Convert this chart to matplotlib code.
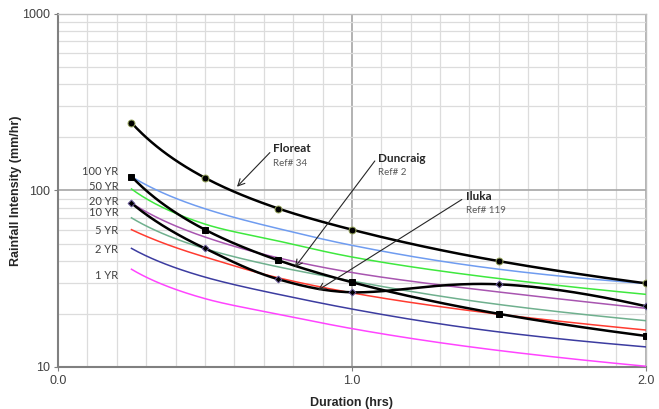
import matplotlib.pyplot as plt
import numpy as np
from matplotlib.ticker import FixedLocator, NullFormatter

# durations (hrs)
durations = [0.25, 0.5, 0.75, 1.0, 1.5, 2.0]

# IFD curves (mm/hr)
ifd_labels = ['100 YR', '50 YR', '20 YR', '10 YR', '5 YR', '2 YR', '1 YR']
ifd_100 = [120, 78.8, 60.8, 48.9, 35.8, 29.7]
ifd_50 = [102, 64.5, 51.7, 42, 31.7, 25.8]
ifd_20 = [85, 54.5, 41.5, 34.3, 26.6, 21.5]
ifd_10 = [70, 46.8, 36.9, 30.7, 22.6, 18.3]
ifd_5 = [60, 42, 32, 26.3, 19.9, 16.2]
ifd_2 = [47, 32.3, 25.8, 21.3, 15.8, 13.0]
ifd_1 = [35.8, 24.4, 19.9, 16.5, 12.4, 10.1]
ifd_colors = ['#6f9cf0', '#3ee83e', '#a855b0', '#6fb08e', '#ff3b30', '#3c3ca0', '#ff44ff']
ifd_label_y = [128, 105, 86.6, 75.1, 59.3, 46.4, 33.1]

# site records
floreat = [242, 118, 79, 60, 39.8, 29.8]
duncraig = [120, 60, 40.2, 30.2, 20, 15]
iluka = [84.8, 47, 31.4, 26.5, 29.4, 22.1]


def smooth(xs, ys, n=40):
    # cubic Hermite in (log x, log y), drawn on linear x, to mimic smoothed lines
    x = np.log(np.array(xs, float))
    y = np.log10(np.array(ys, float))
    m = np.empty_like(y)
    m[1:-1] = (y[2:] - y[:-2]) / (x[2:] - x[:-2])
    s0 = (y[1] - y[0]) / (x[1] - x[0])
    s1 = (y[-1] - y[-2]) / (x[-1] - x[-2])
    m[0] = 2 * s0 - m[1]
    m[-1] = 2 * s1 - m[-2]
    if m[0] * s0 < 0:
        m[0] = 0
    if m[-1] * s1 < 0:
        m[-1] = 0
    ox, oy = [], []
    for i in range(len(x) - 1):
        h = x[i + 1] - x[i]
        t = np.linspace(0, 1, n, endpoint=False)
        h00 = 2 * t ** 3 - 3 * t ** 2 + 1
        h10 = t ** 3 - 2 * t ** 2 + t
        h01 = -2 * t ** 3 + 3 * t ** 2
        h11 = t ** 3 - t ** 2
        ox.extend(x[i] + t * h)
        oy.extend(h00 * y[i] + h10 * h * m[i] + h01 * y[i + 1] + h11 * h * m[i + 1])
    ox.append(x[-1])
    oy.append(y[-1])
    return np.exp(np.array(ox)), 10 ** np.array(oy)


fig = plt.figure(figsize=(6.59, 4.09), dpi=100)
ax = fig.add_axes([0.088, 0.1027, 0.892, 0.8631])

ax.set_yscale('log')
ax.set_xlim(0, 2)
ax.set_ylim(10, 1000)

# grid
ax.xaxis.set_major_locator(FixedLocator([0, 1, 2]))
ax.xaxis.set_minor_locator(FixedLocator(np.arange(0.1, 2.0, 0.1)))
ax.yaxis.set_major_locator(FixedLocator([10, 100, 1000]))
ax.yaxis.set_minor_locator(FixedLocator([m * d for d in (10, 100) for m in range(2, 10)]))
ax.yaxis.set_minor_formatter(NullFormatter())
ax.set_xticklabels(['0.0', '1.0', '2.0'])
ax.set_yticklabels(['10', '100', '1000'])
ax.grid(which='minor', color='#dcdcdc', linewidth=0.9)
ax.grid(which='major', color='#a6a6a6', linewidth=1.2)
ax.set_axisbelow(True)
ax.tick_params(which='minor', length=0)
ax.tick_params(which='major', length=3, color='#808080', labelsize=9, pad=3,
               labelcolor='#404040')
for s in ('top', 'right'):
    ax.spines[s].set_color('#bfbfbf')
    ax.spines[s].set_linewidth(1)
for s in ('left', 'bottom'):
    ax.spines[s].set_color('#808080')
    ax.spines[s].set_linewidth(1.5)
for lab in ax.get_xticklabels() + ax.get_yticklabels():
    lab.set_family('Liberation Sans')

# IFD curves
ifd_series = [ifd_100, ifd_50, ifd_20, ifd_10, ifd_5, ifd_2, ifd_1]
for vals, col, lab, ly in zip(ifd_series, ifd_colors, ifd_labels, ifd_label_y):
    sx, sy = smooth(durations, vals)
    ax.plot(sx, sy, color=col, linewidth=1.1, zorder=3)
    ax.text(0.205, ly, lab, ha='right', va='center', fontsize=8,
            family='Lato', color='#404040')

# site curves
for vals, mk, ms in ((floreat, 'o', 5), (duncraig, 's', 4.5), (iluka, 'D', 3.5)):
    sx, sy = smooth(durations, vals)
    ax.plot(sx, sy, color='black', linewidth=1.8, zorder=4)
    mec = '#9aa860' if mk == 'o' else ('#6a5a9a' if mk == 'D' else 'black')
    ax.plot(durations, vals, linestyle='none', marker=mk, markersize=ms,
            color='black', markeredgecolor=mec, markeredgewidth=0.7, zorder=5)

# annotations
notes = [('Floreat', 'Ref# 34', 0.731, 172, 142, (0.721, 164), (0.609, 105)),
         ('Duncraig', 'Ref# 2', 1.088, 152, 126, (1.078, 147), (0.806, 36.7)),
         ('Iluka', 'Ref# 119', 1.388, 92.5, 77, (1.374, 88.9), (0.884, 27.2))]
for name, ref, tx, ty, ry, start, end in notes:
    ax.text(tx, ty, name, fontsize=8.5, fontweight='bold', family='Lato',
            color='#262626', va='center', ha='left', zorder=6)
    ax.text(tx, ry, ref, fontsize=7, family='Lato', color='#595959',
            va='center', ha='left', zorder=6)
    ax.annotate('', xy=end, xytext=start,
                arrowprops=dict(arrowstyle='->', color='#262626', lw=0.8,
                                shrinkA=0, shrinkB=0, mutation_scale=12),
                zorder=6)

ax.set_xlabel('Duration (hrs)', fontsize=9, fontweight='bold',
              family='Liberation Sans', color='#262626')
ax.set_ylabel('Rainfall Intensity (mm/hr)', fontsize=9, fontweight='bold',
              family='Liberation Sans', color='#262626')
ax.xaxis.set_label_coords(0.5, -0.085)
ax.yaxis.set_label_coords(-0.061, 0.5)

fig.savefig('out.png', dpi=100)
